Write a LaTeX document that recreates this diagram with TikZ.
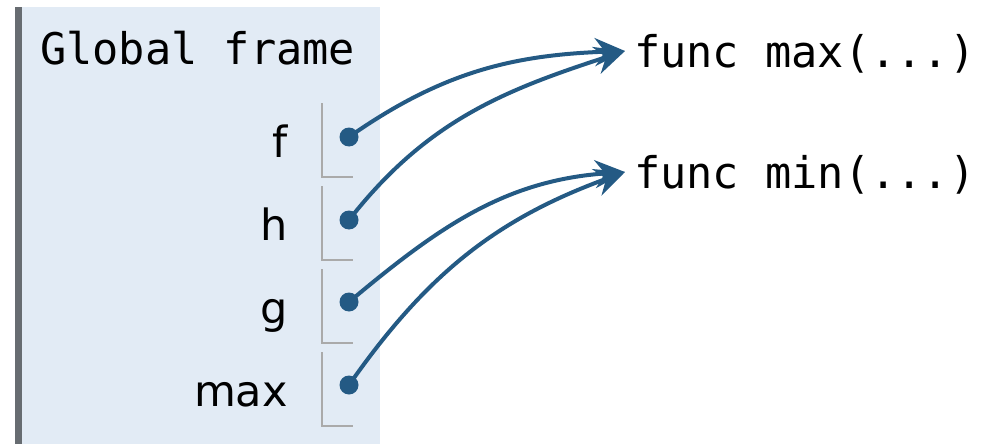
\documentclass[tikz,border=0pt]{standalone}
\usepackage{fontspec}
\setmainfont{DejaVu Sans}
\newfontfamily\monof{DejaVu Sans Mono}
\usetikzlibrary{arrows.meta}
\definecolor{framebg}{HTML}{E2EBF5}
\definecolor{framebar}{HTML}{676C71}
\definecolor{ptr}{HTML}{245A84}
\definecolor{slot}{HTML}{AAAAAA}
\begin{document}
\begin{tikzpicture}[x=1pt,y=-1pt,
  txt/.style={inner sep=0pt, font=\fontsize{43}{50}\selectfont},
  mono/.style={inner sep=0pt, font=\fontsize{43.6}{50}\selectfont\monof},
  dot/.style={circle, fill=ptr, inner sep=0pt, minimum size=19pt},
  slotline/.style={draw=slot, line width=2.5pt},
  ptrarrow/.style={draw=ptr, line width=4pt, -{Stealth[length=30pt,width=28pt,inset=10pt]}}
]
\useasboundingbox (0,0) rectangle (991,444);
\fill[framebg] (15,7) rectangle (380,444);
\fill[framebar] (15,7) rectangle (22,444);
\node[mono, anchor=base west] (title) at (40,65) {Global frame};
% slots
\foreach \y in {103,186,269,352}{
  \draw[slotline] (322,\y) -- (322,\y+74) -- (353,\y+74);
}
\node[txt, anchor=base east] (lf) at (288,157) {f};
\node[txt, anchor=base east] (lh) at (288,240) {h};
\node[txt, anchor=base east] (lg) at (288,323) {g};
\node[txt, anchor=base east] (lmax) at (288,406) {max};
\node[dot] (df) at (349,137) {};
\node[dot] (dh) at (349,220) {};
\node[dot] (dg) at (349,302) {};
\node[dot] (dmax) at (349,385) {};
\node[mono, anchor=base west] (fmax) at (634,67) {func max(...)};
\node[mono, anchor=base west] (fmin) at (634,188) {func min(...)};
\coordinate (tmax) at (625,51);
\coordinate (tmin) at (625,172);
\draw[ptrarrow] (df.center) to[out=35,in=182] (tmax);
\draw[ptrarrow] (dh.center) to[out=52,in=198] (tmax);
\draw[ptrarrow] (dg.center) to[out=40,in=184] (tmin);
\draw[ptrarrow] (dmax.center) to[out=55,in=200] (tmin);
\end{tikzpicture}
\end{document}
